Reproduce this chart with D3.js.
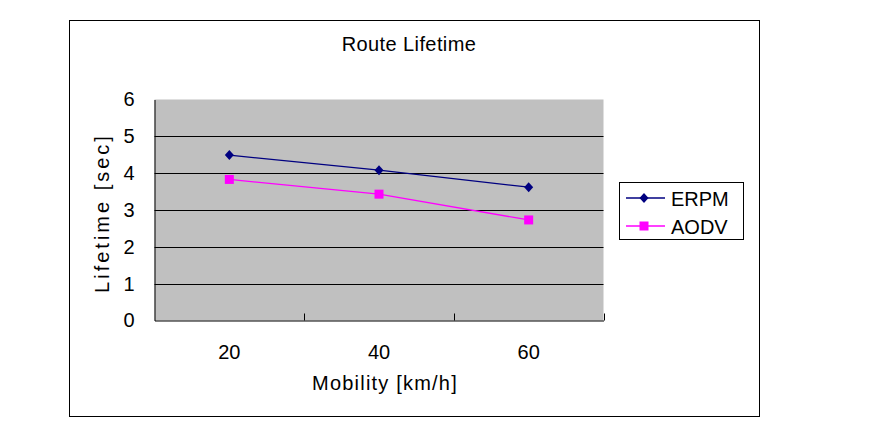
<!DOCTYPE html>
<html><head><meta charset="utf-8">
<script src="https://cdn.jsdelivr.net/npm/d3@7"></script>
<style>body{margin:0;background:#fff}text{font-family:"Liberation Sans",Arial,sans-serif;fill:#000}</style>
</head><body>
<svg id="chart" width="874" height="422"></svg>
<script>
const categories = ["20", "40", "60"];
const erpm = [4.49, 4.08, 3.62];
const aodv = [3.83, 3.43, 2.73];
const yTicks = [0, 1, 2, 3, 4, 5, 6];
const seriesNames = ["ERPM", "AODV"];
const seriesColors = ["#000080", "#ff00ff"];

const svg = d3.select("#chart");
svg.append("rect").attr("x", 69.5).attr("y", 20.5).attr("width", 690).attr("height", 396)
  .attr("fill", "#fff").attr("stroke", "#000").attr("stroke-width", 1);

const L = 154.5, R = 603.5, T = 99.5, B = 320.5;
const x = d3.scaleBand().domain(categories).range([L, R]);
const y = d3.scaleLinear().domain([0, 6]).range([B, T]);

svg.append("rect").attr("x", L).attr("y", T).attr("width", R - L).attr("height", B - T).attr("fill", "#c0c0c0");

// gridlines
svg.append("g").selectAll("line").data(yTicks.filter(d => d > 0 && d < 6)).join("line")
  .attr("x1", L).attr("x2", R).attr("y1", d => Math.round(y(d)) + 0.5).attr("y2", d => Math.round(y(d)) + 0.5)
  .attr("stroke", "#000").attr("stroke-width", 1);

// y axis
const yAxis = svg.append("g").attr("transform", `translate(${L},0)`)
  .call(d3.axisLeft(y).tickValues(yTicks).tickFormat(d3.format("d")).tickSize(0).tickPadding(20));
yAxis.select(".domain").attr("stroke", "#000");
yAxis.selectAll("text").attr("font-size", 20);

// x axis
const xAxis = svg.append("g").attr("transform", `translate(0,${B})`)
  .call(d3.axisBottom(x).tickSize(0).tickPadding(24));
xAxis.select(".domain").attr("stroke", "#000");
xAxis.selectAll("text").attr("font-size", 20);
// category boundary tick marks (inside)
const bounds = categories.map(c => x(c) + x.bandwidth());
svg.append("g").selectAll("line").data(bounds).join("line")
  .attr("x1", d => Math.round(d) + 0.5).attr("x2", d => Math.round(d) + 0.5)
  .attr("y1", B).attr("y2", B - 7).attr("stroke", "#000");

// series
const cx = c => x(c) + x.bandwidth() / 2;
const data = [erpm, aodv];
const line = d3.line().x((d, i) => cx(categories[i])).y(d => y(d));
data.forEach((vals, si) => {
  svg.append("path").attr("d", line(vals)).attr("fill", "none")
    .attr("stroke", seriesColors[si]).attr("stroke-width", 1.3);
});
function marker(g, si, px, py) {
  if (si === 0) {
    g.append("path").attr("d", `M${px},${py - 5}L${px + 4.5},${py}L${px},${py + 5}L${px - 4.5},${py}Z`)
      .attr("fill", seriesColors[0]);
  } else {
    g.append("rect").attr("x", px - 4.5).attr("y", py - 4.5).attr("width", 9).attr("height", 9)
      .attr("fill", seriesColors[1]);
  }
}
const mg = svg.append("g");
data.forEach((vals, si) => vals.forEach((v, i) => marker(mg, si, cx(categories[i]), y(v))));

// title and labels
svg.append("text").attr("x", 409).attr("y", 51).attr("text-anchor", "middle").attr("font-size", 20)
  .attr("letter-spacing", 0.4).text("Route Lifetime");
svg.append("text").attr("x", 385).attr("y", 390).attr("text-anchor", "middle").attr("font-size", 20)
  .attr("letter-spacing", 1.2).text("Mobility [km/h]");
svg.append("text").attr("transform", "translate(109,213) rotate(-90)").attr("text-anchor", "middle")
  .attr("font-size", 20).attr("letter-spacing", 3).text("Lifetime [sec]");

// legend
svg.append("rect").attr("x", 619.5).attr("y", 182.5).attr("width", 124).attr("height", 57)
  .attr("fill", "#fff").attr("stroke", "#000");
const lg = svg.append("g");
seriesNames.forEach((n, si) => {
  const ly = si === 0 ? 198 : 226;
  lg.append("line").attr("x1", 626).attr("x2", 665).attr("y1", ly).attr("y2", ly)
    .attr("stroke", seriesColors[si]).attr("stroke-width", 1.3);
  marker(lg, si, 644, ly);
  lg.append("text").attr("x", 671).attr("y", ly + 7.5).attr("font-size", 20).text(n);
});
</script>
</body></html>
